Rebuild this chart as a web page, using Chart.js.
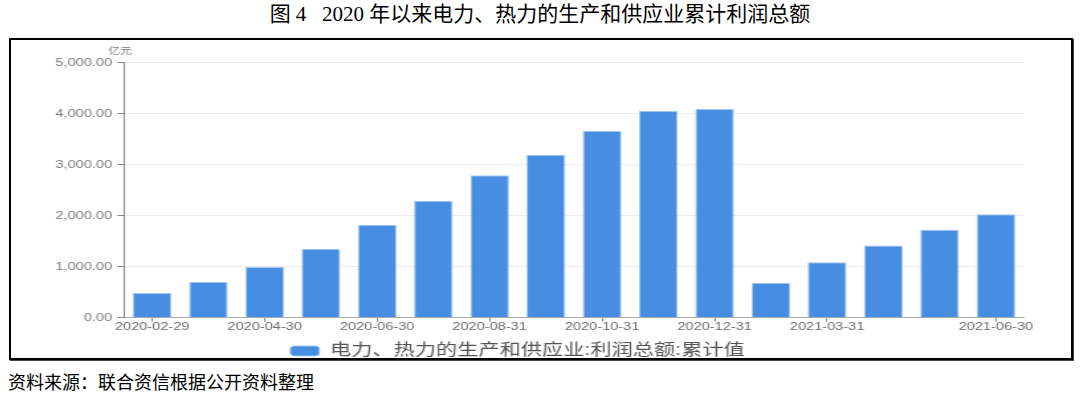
<!DOCTYPE html>
<html>
<head>
<meta charset="utf-8">
<script src="https://cdn.jsdelivr.net/npm/chart.js@4"></script>
<style>
  html, body { margin: 0; padding: 0; background: #fff; }
  body { width: 1080px; height: 395px; position: relative; overflow: hidden; }
  #title { position: absolute; left: 0; top: 3px; width: 1080px; text-align: center;
    font-family: 'Liberation Serif', 'Noto Sans CJK SC', serif; font-size: 21px; line-height: 22px; color: #000; }
  #frame { position: absolute; left: 9px; top: 38px; width: 1060px; height: 318px;
    border: 2px solid #000; overflow: hidden; box-shadow: 1px 1px 0 #444; background: #fff; }
  #chart { display: block; width: 1060px; height: 329px; }
  #source { position: absolute; left: 8px; top: 372px; font-family: 'Noto Sans CJK SC', sans-serif;
    font-size: 18px; line-height: 18px; color: #000; }
</style>
</head>
<body>
<div id="title">图 4&nbsp;&nbsp;&nbsp;2020 年以来电力、热力的生产和供应业累计利润总额</div>
<div id="frame"><canvas id="chart" width="800" height="329" style="width:1060px;height:329px"></canvas></div>
<div id="source">资料来源：联合资信根据公开资料整理</div>
<script>
const categories = ['2020-02-29','2020-03-31','2020-04-30','2020-05-31','2020-06-30','2020-07-31','2020-08-31','2020-09-30','2020-10-31','2020-11-30','2020-12-31','2021-02-28','2021-03-31','2021-04-30','2021-05-31','2021-06-30'];
const profit = [484, 706, 993, 1353, 1824, 2294, 2791, 3196, 3667, 4059, 4092, 686, 1085, 1418, 1725, 2026];
const xTickLabels = ['2020-02-29','','2020-04-30','','2020-06-30','','2020-08-31','','2020-10-31','','2020-12-31','','2021-03-31','','','2021-06-30'];
const yTickValues = [0, 1000, 2000, 3000, 4000, 5000];
const seriesName = '电力、热力的生产和供应业:利润总额:累计值';
const unitLabel = '亿元';

const unitPlugin = {
  id: 'unitLabel',
  afterDraw(chart) {
    const {ctx, chartArea} = chart;
    ctx.save();
    ctx.font = "9px 'Noto Sans CJK SC', sans-serif";
    ctx.fillStyle = '#777';
    ctx.textAlign = 'center';
    ctx.textBaseline = 'middle';
    ctx.fillText(unitLabel, chartArea.left - 3, chartArea.top - 12.5);
    ctx.restore();
  }
};

new Chart(document.getElementById('chart'), {
  type: 'bar',
  data: {
    labels: categories,
    datasets: [{
      label: seriesName,
      data: profit,
      backgroundColor: '#478ee3',
      borderColor: '#a6c8f2',
      borderWidth: 1,
      barPercentage: 0.69,
      categoryPercentage: 1.0
    }]
  },
  options: {
    responsive: false,
    animation: false,
    devicePixelRatio: 1,
    layout: { padding: { top: 22.7, right: 35.5, bottom: 0, left: 0 } },
    plugins: {
      title: { display: false },
      tooltip: { enabled: false },
      legend: {
        position: 'bottom',
        labels: {
          boxWidth: 22,
          boxHeight: 10,
          useBorderRadius: true,
          borderRadius: 3,
          padding: 10,
          color: '#555',
          font: { family: "'Liberation Sans', 'Noto Sans CJK SC', sans-serif", size: 16 }
        }
      }
    },
    scales: {
      x: {
        offset: true,
        afterFit(s) { s.height = 15.3; },
        grid: {
          offset: false,
          drawOnChartArea: false,
          drawTicks: true,
          tickLength: 4,
          tickColor: (c) => (xTickLabels[c.index] ? '#888' : 'rgba(0,0,0,0)')
        },
        border: { display: true, color: '#aaa', width: 1 },
        ticks: {
          autoSkip: false,
          maxRotation: 0,
          padding: -1,
          color: '#6b6b6b',
          font: { family: "'Liberation Sans', sans-serif", size: 11 },
          callback: (v, i) => xTickLabels[i]
        }
      },
      y: {
        min: 0,
        max: 5000,
        afterFit(s) { s.width = 85.3; },
        afterBuildTicks(s) { s.ticks = yTickValues.map(v => ({ value: v })); },
        grid: { color: '#ececec', lineWidth: 1, tickLength: 5, tickColor: '#888' },
        border: { display: true, color: '#888', width: 1 },
        ticks: {
          padding: 4,
          color: '#7a7a7a',
          font: { family: "'Liberation Sans', sans-serif", size: 11 },
          callback: (v) => Number(v).toLocaleString('en-US', { minimumFractionDigits: 2, maximumFractionDigits: 2 })
        }
      }
    }
  },
  plugins: [unitPlugin]
});
</script>
</body>
</html>
